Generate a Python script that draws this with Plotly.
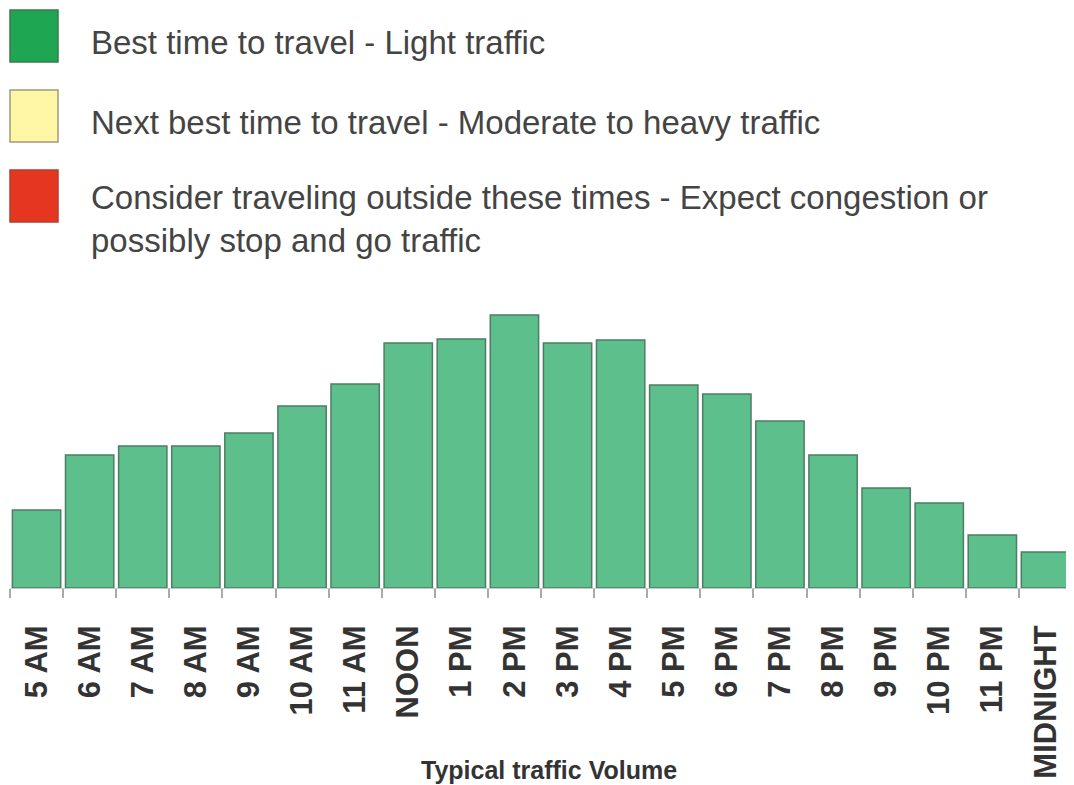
import plotly.graph_objects as go

hours = ["5 AM", "6 AM", "7 AM", "8 AM", "9 AM", "10 AM", "11 AM", "NOON",
         "1 PM", "2 PM", "3 PM", "4 PM", "5 PM", "6 PM", "7 PM", "8 PM",
         "9 PM", "10 PM", "11 PM", "MIDNIGHT"]
volume = [78, 133, 142, 142, 155, 182, 204, 245, 249, 273,
          245, 248, 203, 194, 167, 133, 100, 85, 53, 36]

legend_labels = [
    "Best time to travel - Light traffic",
    "Next best time to travel - Moderate to heavy traffic",
    "Consider traveling outside these times - Expect congestion or<br>possibly stop and go traffic",
]
legend_colors = ["#1fa653", "#fff6a6", "#e5361f"]
legend_borders = ["#3c7a50", "#a09a7a", "#b0402a"]

# page has an 8px body margin, so the figure is drawn 8px in from the corner
OFF = 8
W, H = 1074 - OFF, 785 - OFF
PL, PR = 10, 1072          # plot area left/right in screen px
BASE, PH = 588, 288        # baseline y and plot height in screen px


def px(x):
    return (x - PL) / (PR - PL)


def py(y):
    return (BASE - y) / PH


bars = go.Bar(
    x=hours,
    y=volume,
    marker=dict(color="#5cbf8c", line=dict(color="#4f7c64", width=1.5)),
    showlegend=False,
)
fig = go.Figure(data=[bars])

# key boxes and text at the top
box_tops = [10, 90, 170]
text_y = [42, 122, 219]
for i, lab in enumerate(legend_labels):
    top = box_tops[i]
    fig.add_shape(
        type="rect", xref="paper", yref="paper",
        x0=px(10), x1=px(58), y0=py(top), y1=py(top + 52),
        fillcolor=legend_colors[i], line=dict(color=legend_borders[i], width=1.5),
    )
    fig.add_annotation(
        text=lab, xref="paper", yref="paper",
        x=px(89), y=py(text_y[i]),
        xanchor="left", yanchor="middle",
        showarrow=False, align="left",
        font=dict(size=33, color="#444444", family="Liberation Sans, Arial"),
    )

fig.add_annotation(
    text="<b>Typical traffic Volume</b>", xref="paper", yref="paper",
    x=px(549), y=py(770),
    xanchor="center", yanchor="middle", showarrow=False,
    font=dict(size=25, color="#333333", family="Liberation Sans, Arial"),
)

fig.update_layout(
    width=W,
    height=H,
    margin=dict(l=PL - OFF, r=W - (PR - OFF), t=BASE - PH - OFF, b=H - (BASE - OFF)),
    paper_bgcolor="white",
    plot_bgcolor="white",
    bargap=0.09,
    xaxis=dict(
        tickangle=-90,
        tickson="boundaries",
        ticks="outside",
        ticklen=9,
        tickwidth=2,
        tickcolor="#b0a8a8",
        showline=True,
        linecolor="#c8c8c8",
        ticklabelstandoff=24,
        tickfont=dict(size=31, color="#333333", family="Liberation Sans, Arial", weight="bold"),
        showgrid=False,
    ),
    yaxis=dict(range=[0, PH], visible=False, showgrid=False),
)

fig.write_html("out.html")
